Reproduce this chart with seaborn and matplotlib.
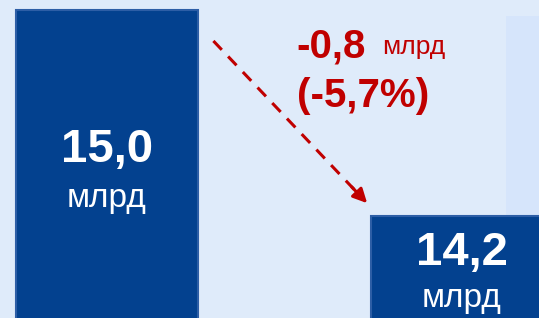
import matplotlib
matplotlib.use('Agg')
import matplotlib.pyplot as plt
import pandas as pd
import seaborn as sns
from matplotlib.patches import Rectangle

# data
periods = ['before', 'after']
values = [15.0, 14.2]
value_labels = ['15,0', '14,2']
unit = 'млрд'
change_label = '-0,8'
change_pct = '(-5,7%)'

df = pd.DataFrame({'period': periods, 'value': values})

sns.set_theme(style='white')
plt.rcParams['font.family'] = ['Liberation Sans', 'DejaVu Sans']

bg = '#dfebfa'
bar_color = '#03418f'
red = '#c00000'

fig = plt.figure(figsize=(5.39, 3.18), dpi=100, facecolor=bg)
ax = fig.add_axes([0, 0, 1, 1])
ax.set_facecolor(bg)

# lighter panel on the right side
ax.add_patch(Rectangle((0.939, 0), 0.1, 0.95, transform=ax.transAxes,
                       facecolor='#d6e5fb', edgecolor='none', zorder=0))

sns.barplot(data=df, x='period', y='value', color=bar_color, width=0.513,
            saturation=1, edgecolor='#2d5ea6', linewidth=1.5, ax=ax, zorder=2)

ax.set_xlim(-0.301, 1.217)
ax.set_ylim(13.804, 15.039)
ax.axis('off')

# labels inside bars
num_off = [0.545, 0.145]
unit_off = [0.73, 0.32]
for i, (v, lab) in enumerate(zip(values, value_labels)):
    ax.text(i, v - num_off[i], lab, color='white', fontsize=34,
            fontweight='bold', ha='center', va='center', zorder=3)
    ax.text(i, v - unit_off[i], unit, color='white', fontsize=24,
            ha='center', va='center', zorder=3)

# dashed arrow between bars
x0, y0 = 0.30, values[0] - 0.12
x1, y1 = 0.733, values[1] + 0.05
ax.plot([x0, x0 + (x1 - x0) * 0.93], [y0, y0 + (y1 - y0) * 0.93],
        color=red, lw=2.2, ls=(0, (4, 3)), zorder=3)
ax.annotate('', xy=(x1, y1), xytext=(x0 + (x1 - x0) * 0.9, y0 + (y1 - y0) * 0.9),
            arrowprops=dict(arrowstyle='-|>,head_length=0.7,head_width=0.35',
                            color=red, lw=2.2, shrinkA=0, shrinkB=0), zorder=3)

# change annotation
ax.text(0.535, 14.86, change_label, color=red, fontsize=29, fontweight='bold',
        ha='left', va='center', zorder=3)
ax.text(0.775, 14.855, unit, color=red, fontsize=19, ha='left', va='center', zorder=3)
ax.text(0.535, 14.665, change_pct, color=red, fontsize=29, fontweight='bold',
        ha='left', va='center', zorder=3)

fig.savefig('out.png', dpi=100, facecolor=bg)
